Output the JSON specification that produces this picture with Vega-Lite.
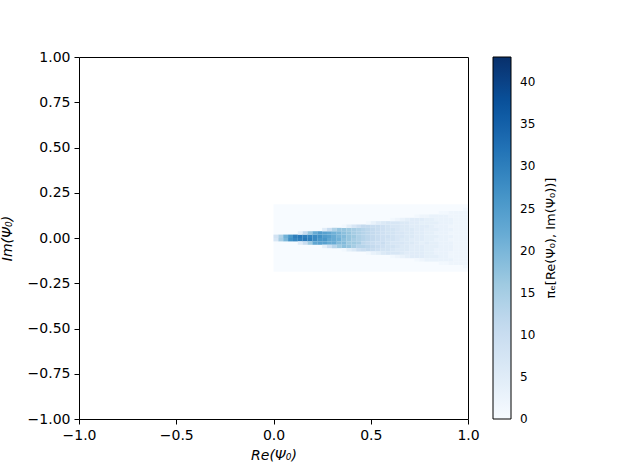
{
  "$schema": "https://vega.github.io/schema/vega-lite/v6.json",
  "width": 389,
  "height": 362,
  "autosize": {"type": "none"},
  "padding": {"left": 79, "top": 57, "right": 160, "bottom": 52},
  "background": "white",
  "config": {
    "font": "DejaVu Sans",
    "view": {"stroke": "black", "strokeWidth": 1},
    "axis": {
      "domain": false,
      "grid": false,
      "labelFlush": false,
      "tickColor": "black",
      "tickSize": 5,
      "tickWidth": 1,
      "labelColor": "black",
      "labelFont": "DejaVu Sans",
      "labelFontSize": 14,
      "labelPadding": 4,
      "titleColor": "black",
      "titleFont": "DejaVu Sans",
      "titleFontSize": 14,
      "titleFontWeight": "normal",
      "titleFontStyle": "italic"
    },
    "legend": {"gradientVerticalMaxLength": 400, "gradientVerticalMinLength": 100}
  },
  "datasets": {
    "bg": [{"x": 0, "xe": 1, "y": -0.186, "ye": 0.186, "v": 0}],
    "cells": [
      {"x":0.0125,"y":0.0093,"v":8},{"x":0.0125,"y":-0.0093,"v":7},
      {"x":0.0375,"y":0.0093,"v":14},{"x":0.0375,"y":-0.0093,"v":15},
      {"x":0.0625,"y":0.0093,"v":21},{"x":0.0625,"y":-0.0093,"v":20},
      {"x":0.0875,"y":0.0093,"v":26},{"x":0.0875,"y":-0.0093,"v":27},
      {"x":0.1125,"y":0.0093,"v":30},{"x":0.1125,"y":-0.0093,"v":29},
      {"x":0.1375,"y":0.0093,"v":31},{"x":0.1375,"y":-0.0093,"v":30},{"x":0.1375,"y":0.0279,"v":4},{"x":0.1375,"y":-0.0279,"v":5},
      {"x":0.1625,"y":0.0093,"v":30},{"x":0.1625,"y":-0.0093,"v":31},{"x":0.1625,"y":0.0279,"v":11},{"x":0.1625,"y":-0.0279,"v":10},
      {"x":0.1875,"y":0.0093,"v":29},{"x":0.1875,"y":-0.0093,"v":30},{"x":0.1875,"y":0.0279,"v":17},{"x":0.1875,"y":-0.0279,"v":16},
      {"x":0.2125,"y":0.0093,"v":28},{"x":0.2125,"y":-0.0093,"v":28},{"x":0.2125,"y":0.0279,"v":22},{"x":0.2125,"y":-0.0279,"v":23},
      {"x":0.2375,"y":0.0093,"v":27},{"x":0.2375,"y":-0.0093,"v":26},{"x":0.2375,"y":0.0279,"v":25},{"x":0.2375,"y":-0.0279,"v":24},
      {"x":0.2625,"y":0.0093,"v":25},{"x":0.2625,"y":-0.0093,"v":26},{"x":0.2625,"y":0.0279,"v":24},{"x":0.2625,"y":-0.0279,"v":24},{"x":0.2625,"y":0.0465,"v":5},{"x":0.2625,"y":-0.0465,"v":4},
      {"x":0.2875,"y":0.0093,"v":24},{"x":0.2875,"y":-0.0093,"v":23},{"x":0.2875,"y":0.0279,"v":23},{"x":0.2875,"y":-0.0279,"v":22},{"x":0.2875,"y":0.0465,"v":10},{"x":0.2875,"y":-0.0465,"v":9},
      {"x":0.3125,"y":0.0093,"v":22},{"x":0.3125,"y":-0.0093,"v":22},{"x":0.3125,"y":0.0279,"v":21},{"x":0.3125,"y":-0.0279,"v":22},{"x":0.3125,"y":0.0465,"v":14},{"x":0.3125,"y":-0.0465,"v":13},
      {"x":0.3375,"y":0.0093,"v":20},{"x":0.3375,"y":-0.0093,"v":21},{"x":0.3375,"y":0.0279,"v":20},{"x":0.3375,"y":-0.0279,"v":19},{"x":0.3375,"y":0.0465,"v":17},{"x":0.3375,"y":-0.0465,"v":16},
      {"x":0.3625,"y":0.0093,"v":19},{"x":0.3625,"y":-0.0093,"v":18},{"x":0.3625,"y":0.0279,"v":18},{"x":0.3625,"y":-0.0279,"v":19},{"x":0.3625,"y":0.0465,"v":17},{"x":0.3625,"y":-0.0465,"v":18},{"x":0.3625,"y":0.0651,"v":1},{"x":0.3625,"y":-0.0651,"v":1},
      {"x":0.3875,"y":0.0093,"v":17},{"x":0.3875,"y":-0.0093,"v":17},{"x":0.3875,"y":0.0279,"v":17},{"x":0.3875,"y":-0.0279,"v":16},{"x":0.3875,"y":0.0465,"v":16},{"x":0.3875,"y":-0.0465,"v":17},{"x":0.3875,"y":0.0651,"v":4},{"x":0.3875,"y":-0.0651,"v":4},
      {"x":0.4125,"y":0.0093,"v":16},{"x":0.4125,"y":-0.0093,"v":15},{"x":0.4125,"y":0.0279,"v":15},{"x":0.4125,"y":-0.0279,"v":16},{"x":0.4125,"y":0.0465,"v":15},{"x":0.4125,"y":-0.0465,"v":15},{"x":0.4125,"y":0.0651,"v":7},{"x":0.4125,"y":-0.0651,"v":6},
      {"x":0.4375,"y":0.0093,"v":14},{"x":0.4375,"y":-0.0093,"v":14},{"x":0.4375,"y":0.0279,"v":14},{"x":0.4375,"y":-0.0279,"v":15},{"x":0.4375,"y":0.0465,"v":14},{"x":0.4375,"y":-0.0465,"v":13},{"x":0.4375,"y":0.0651,"v":9},{"x":0.4375,"y":-0.0651,"v":9},
      {"x":0.4625,"y":0.0093,"v":13},{"x":0.4625,"y":-0.0093,"v":13},{"x":0.4625,"y":0.0279,"v":13},{"x":0.4625,"y":-0.0279,"v":12},{"x":0.4625,"y":0.0465,"v":13},{"x":0.4625,"y":-0.0465,"v":13},{"x":0.4625,"y":0.0651,"v":11},{"x":0.4625,"y":-0.0651,"v":10},
      {"x":0.4875,"y":0.0093,"v":12},{"x":0.4875,"y":-0.0093,"v":12},{"x":0.4875,"y":0.0279,"v":12},{"x":0.4875,"y":-0.0279,"v":11},{"x":0.4875,"y":0.0465,"v":12},{"x":0.4875,"y":-0.0465,"v":12},{"x":0.4875,"y":0.0651,"v":11},{"x":0.4875,"y":-0.0651,"v":11},{"x":0.4875,"y":0.0837,"v":1},{"x":0.4875,"y":-0.0837,"v":1},
      {"x":0.5125,"y":0.0093,"v":11},{"x":0.5125,"y":-0.0093,"v":11},{"x":0.5125,"y":0.0279,"v":11},{"x":0.5125,"y":-0.0279,"v":10},{"x":0.5125,"y":0.0465,"v":11},{"x":0.5125,"y":-0.0465,"v":11},{"x":0.5125,"y":0.0651,"v":10},{"x":0.5125,"y":-0.0651,"v":10},{"x":0.5125,"y":0.0837,"v":3},{"x":0.5125,"y":-0.0837,"v":3},
      {"x":0.5375,"y":0.0093,"v":10},{"x":0.5375,"y":-0.0093,"v":10},{"x":0.5375,"y":0.0279,"v":10},{"x":0.5375,"y":-0.0279,"v":9},{"x":0.5375,"y":0.0465,"v":10},{"x":0.5375,"y":-0.0465,"v":10},{"x":0.5375,"y":0.0651,"v":10},{"x":0.5375,"y":-0.0651,"v":9},{"x":0.5375,"y":0.0837,"v":5},{"x":0.5375,"y":-0.0837,"v":4},
      {"x":0.5625,"y":0.0093,"v":9},{"x":0.5625,"y":-0.0093,"v":9},{"x":0.5625,"y":0.0279,"v":9},{"x":0.5625,"y":-0.0279,"v":10},{"x":0.5625,"y":0.0465,"v":9},{"x":0.5625,"y":-0.0465,"v":9},{"x":0.5625,"y":0.0651,"v":9},{"x":0.5625,"y":-0.0651,"v":8},{"x":0.5625,"y":0.0837,"v":6},{"x":0.5625,"y":-0.0837,"v":6},
      {"x":0.5875,"y":0.0093,"v":9},{"x":0.5875,"y":-0.0093,"v":8},{"x":0.5875,"y":0.0279,"v":8},{"x":0.5875,"y":-0.0279,"v":8},{"x":0.5875,"y":0.0465,"v":8},{"x":0.5875,"y":-0.0465,"v":8},{"x":0.5875,"y":0.0651,"v":8},{"x":0.5875,"y":-0.0651,"v":8},{"x":0.5875,"y":0.0837,"v":7},{"x":0.5875,"y":-0.0837,"v":7},
      {"x":0.6125,"y":0.0093,"v":8},{"x":0.6125,"y":-0.0093,"v":8},{"x":0.6125,"y":0.0279,"v":8},{"x":0.6125,"y":-0.0279,"v":7},{"x":0.6125,"y":0.0465,"v":8},{"x":0.6125,"y":-0.0465,"v":8},{"x":0.6125,"y":0.0651,"v":7},{"x":0.6125,"y":-0.0651,"v":7},{"x":0.6125,"y":0.0837,"v":7},{"x":0.6125,"y":-0.0837,"v":7},{"x":0.6125,"y":0.1023,"v":1},{"x":0.6125,"y":-0.1023,"v":1},
      {"x":0.6375,"y":0.0093,"v":7},{"x":0.6375,"y":-0.0093,"v":7},{"x":0.6375,"y":0.0279,"v":7},{"x":0.6375,"y":-0.0279,"v":7},{"x":0.6375,"y":0.0465,"v":7},{"x":0.6375,"y":-0.0465,"v":7},{"x":0.6375,"y":0.0651,"v":7},{"x":0.6375,"y":-0.0651,"v":6},{"x":0.6375,"y":0.0837,"v":7},{"x":0.6375,"y":-0.0837,"v":7},{"x":0.6375,"y":0.1023,"v":2},{"x":0.6375,"y":-0.1023,"v":2},
      {"x":0.6625,"y":0.0093,"v":7},{"x":0.6625,"y":-0.0093,"v":6},{"x":0.6625,"y":0.0279,"v":7},{"x":0.6625,"y":-0.0279,"v":7},{"x":0.6625,"y":0.0465,"v":6},{"x":0.6625,"y":-0.0465,"v":6},{"x":0.6625,"y":0.0651,"v":6},{"x":0.6625,"y":-0.0651,"v":6},{"x":0.6625,"y":0.0837,"v":6},{"x":0.6625,"y":-0.0837,"v":6},{"x":0.6625,"y":0.1023,"v":3},{"x":0.6625,"y":-0.1023,"v":3},
      {"x":0.6875,"y":0.0093,"v":6},{"x":0.6875,"y":-0.0093,"v":6},{"x":0.6875,"y":0.0279,"v":6},{"x":0.6875,"y":-0.0279,"v":6},{"x":0.6875,"y":0.0465,"v":6},{"x":0.6875,"y":-0.0465,"v":6},{"x":0.6875,"y":0.0651,"v":6},{"x":0.6875,"y":-0.0651,"v":6},{"x":0.6875,"y":0.0837,"v":6},{"x":0.6875,"y":-0.0837,"v":5},{"x":0.6875,"y":0.1023,"v":4},{"x":0.6875,"y":-0.1023,"v":4},
      {"x":0.7125,"y":0.0093,"v":6},{"x":0.7125,"y":-0.0093,"v":5},{"x":0.7125,"y":0.0279,"v":6},{"x":0.7125,"y":-0.0279,"v":6},{"x":0.7125,"y":0.0465,"v":6},{"x":0.7125,"y":-0.0465,"v":5},{"x":0.7125,"y":0.0651,"v":5},{"x":0.7125,"y":-0.0651,"v":5},{"x":0.7125,"y":0.0837,"v":5},{"x":0.7125,"y":-0.0837,"v":5},{"x":0.7125,"y":0.1023,"v":5},{"x":0.7125,"y":-0.1023,"v":5},
      {"x":0.7375,"y":0.0093,"v":5},{"x":0.7375,"y":-0.0093,"v":5},{"x":0.7375,"y":0.0279,"v":5},{"x":0.7375,"y":-0.0279,"v":5},{"x":0.7375,"y":0.0465,"v":5},{"x":0.7375,"y":-0.0465,"v":5},{"x":0.7375,"y":0.0651,"v":5},{"x":0.7375,"y":-0.0651,"v":5},{"x":0.7375,"y":0.0837,"v":5},{"x":0.7375,"y":-0.0837,"v":5},{"x":0.7375,"y":0.1023,"v":5},{"x":0.7375,"y":-0.1023,"v":5},{"x":0.7375,"y":0.1209,"v":1},{"x":0.7375,"y":-0.1209,"v":1},
      {"x":0.7625,"y":0.0093,"v":5},{"x":0.7625,"y":-0.0093,"v":5},{"x":0.7625,"y":0.0279,"v":5},{"x":0.7625,"y":-0.0279,"v":4},{"x":0.7625,"y":0.0465,"v":5},{"x":0.7625,"y":-0.0465,"v":5},{"x":0.7625,"y":0.0651,"v":5},{"x":0.7625,"y":-0.0651,"v":5},{"x":0.7625,"y":0.0837,"v":4},{"x":0.7625,"y":-0.0837,"v":5},{"x":0.7625,"y":0.1023,"v":5},{"x":0.7625,"y":-0.1023,"v":5},{"x":0.7625,"y":0.1209,"v":2},{"x":0.7625,"y":-0.1209,"v":2},
      {"x":0.7875,"y":0.0093,"v":4},{"x":0.7875,"y":-0.0093,"v":4},{"x":0.7875,"y":0.0279,"v":4},{"x":0.7875,"y":-0.0279,"v":5},{"x":0.7875,"y":0.0465,"v":4},{"x":0.7875,"y":-0.0465,"v":4},{"x":0.7875,"y":0.0651,"v":5},{"x":0.7875,"y":-0.0651,"v":4},{"x":0.7875,"y":0.0837,"v":4},{"x":0.7875,"y":-0.0837,"v":4},{"x":0.7875,"y":0.1023,"v":4},{"x":0.7875,"y":-0.1023,"v":4},{"x":0.7875,"y":0.1209,"v":2},{"x":0.7875,"y":-0.1209,"v":3},
      {"x":0.8125,"y":0.0093,"v":4},{"x":0.8125,"y":-0.0093,"v":4},{"x":0.8125,"y":0.0279,"v":4},{"x":0.8125,"y":-0.0279,"v":4},{"x":0.8125,"y":0.0465,"v":4},{"x":0.8125,"y":-0.0465,"v":4},{"x":0.8125,"y":0.0651,"v":4},{"x":0.8125,"y":-0.0651,"v":4},{"x":0.8125,"y":0.0837,"v":4},{"x":0.8125,"y":-0.0837,"v":4},{"x":0.8125,"y":0.1023,"v":4},{"x":0.8125,"y":-0.1023,"v":4},{"x":0.8125,"y":0.1209,"v":3},{"x":0.8125,"y":-0.1209,"v":3},
      {"x":0.8375,"y":0.0093,"v":4},{"x":0.8375,"y":-0.0093,"v":3},{"x":0.8375,"y":0.0279,"v":3},{"x":0.8375,"y":-0.0279,"v":4},{"x":0.8375,"y":0.0465,"v":4},{"x":0.8375,"y":-0.0465,"v":4},{"x":0.8375,"y":0.0651,"v":3},{"x":0.8375,"y":-0.0651,"v":3},{"x":0.8375,"y":0.0837,"v":4},{"x":0.8375,"y":-0.0837,"v":3},{"x":0.8375,"y":0.1023,"v":3},{"x":0.8375,"y":-0.1023,"v":4},{"x":0.8375,"y":0.1209,"v":3},{"x":0.8375,"y":-0.1209,"v":3},
      {"x":0.8625,"y":0.0093,"v":3},{"x":0.8625,"y":-0.0093,"v":3},{"x":0.8625,"y":0.0279,"v":3},{"x":0.8625,"y":-0.0279,"v":3},{"x":0.8625,"y":0.0465,"v":3},{"x":0.8625,"y":-0.0465,"v":3},{"x":0.8625,"y":0.0651,"v":3},{"x":0.8625,"y":-0.0651,"v":3},{"x":0.8625,"y":0.0837,"v":3},{"x":0.8625,"y":-0.0837,"v":3},{"x":0.8625,"y":0.1023,"v":3},{"x":0.8625,"y":-0.1023,"v":3},{"x":0.8625,"y":0.1209,"v":3},{"x":0.8625,"y":-0.1209,"v":3},{"x":0.8625,"y":0.1395,"v":1},{"x":0.8625,"y":-0.1395,"v":1},
      {"x":0.8875,"y":0.0093,"v":3},{"x":0.8875,"y":-0.0093,"v":3},{"x":0.8875,"y":0.0279,"v":3},{"x":0.8875,"y":-0.0279,"v":3},{"x":0.8875,"y":0.0465,"v":3},{"x":0.8875,"y":-0.0465,"v":3},{"x":0.8875,"y":0.0651,"v":3},{"x":0.8875,"y":-0.0651,"v":3},{"x":0.8875,"y":0.0837,"v":3},{"x":0.8875,"y":-0.0837,"v":3},{"x":0.8875,"y":0.1023,"v":3},{"x":0.8875,"y":-0.1023,"v":3},{"x":0.8875,"y":0.1209,"v":3},{"x":0.8875,"y":-0.1209,"v":3},{"x":0.8875,"y":0.1395,"v":1},{"x":0.8875,"y":-0.1395,"v":1},
      {"x":0.9125,"y":0.0093,"v":3},{"x":0.9125,"y":-0.0093,"v":2},{"x":0.9125,"y":0.0279,"v":2},{"x":0.9125,"y":-0.0279,"v":3},{"x":0.9125,"y":0.0465,"v":3},{"x":0.9125,"y":-0.0465,"v":3},{"x":0.9125,"y":0.0651,"v":2},{"x":0.9125,"y":-0.0651,"v":3},{"x":0.9125,"y":0.0837,"v":3},{"x":0.9125,"y":-0.0837,"v":2},{"x":0.9125,"y":0.1023,"v":3},{"x":0.9125,"y":-0.1023,"v":2},{"x":0.9125,"y":0.1209,"v":2},{"x":0.9125,"y":-0.1209,"v":3},{"x":0.9125,"y":0.1395,"v":2},{"x":0.9125,"y":-0.1395,"v":2},
      {"x":0.9375,"y":0.0093,"v":2},{"x":0.9375,"y":-0.0093,"v":2},{"x":0.9375,"y":0.0279,"v":2},{"x":0.9375,"y":-0.0279,"v":2},{"x":0.9375,"y":0.0465,"v":2},{"x":0.9375,"y":-0.0465,"v":2},{"x":0.9375,"y":0.0651,"v":2},{"x":0.9375,"y":-0.0651,"v":2},{"x":0.9375,"y":0.0837,"v":2},{"x":0.9375,"y":-0.0837,"v":2},{"x":0.9375,"y":0.1023,"v":2},{"x":0.9375,"y":-0.1023,"v":2},{"x":0.9375,"y":0.1209,"v":2},{"x":0.9375,"y":-0.1209,"v":2},{"x":0.9375,"y":0.1395,"v":2},{"x":0.9375,"y":-0.1395,"v":2},
      {"x":0.9625,"y":0.0093,"v":2},{"x":0.9625,"y":-0.0093,"v":2},{"x":0.9625,"y":0.0279,"v":2},{"x":0.9625,"y":-0.0279,"v":2},{"x":0.9625,"y":0.0465,"v":2},{"x":0.9625,"y":-0.0465,"v":2},{"x":0.9625,"y":0.0651,"v":2},{"x":0.9625,"y":-0.0651,"v":2},{"x":0.9625,"y":0.0837,"v":2},{"x":0.9625,"y":-0.0837,"v":2},{"x":0.9625,"y":0.1023,"v":2},{"x":0.9625,"y":-0.1023,"v":2},{"x":0.9625,"y":0.1209,"v":2},{"x":0.9625,"y":-0.1209,"v":2},{"x":0.9625,"y":0.1395,"v":2},{"x":0.9625,"y":-0.1395,"v":2},
      {"x":0.9875,"y":0.0093,"v":2},{"x":0.9875,"y":-0.0093,"v":2},{"x":0.9875,"y":0.0279,"v":2},{"x":0.9875,"y":-0.0279,"v":2},{"x":0.9875,"y":0.0465,"v":2},{"x":0.9875,"y":-0.0465,"v":2},{"x":0.9875,"y":0.0651,"v":2},{"x":0.9875,"y":-0.0651,"v":2},{"x":0.9875,"y":0.0837,"v":2},{"x":0.9875,"y":-0.0837,"v":2},{"x":0.9875,"y":0.1023,"v":2},{"x":0.9875,"y":-0.1023,"v":2},{"x":0.9875,"y":0.1209,"v":2},{"x":0.9875,"y":-0.1209,"v":2},{"x":0.9875,"y":0.1395,"v":2},{"x":0.9875,"y":-0.1395,"v":2},{"x":0.9875,"y":0.1581,"v":1},{"x":0.9875,"y":-0.1581,"v":1}
    ]
  },
  "layer": [
    {
      "data": {"name": "bg"},
      "mark": {"type": "rect", "clip": true},
      "encoding": {
        "x": {"field": "x", "type": "quantitative", "title": "Re(Ψ₀)",
          "scale": {"domain": [-1, 1], "nice": false, "zero": false},
          "axis": {"values": [-1, -0.5, 0, 0.5, 1], "labelExpr": "replace(format(datum.value, '.1f'), '-', '−')", "titlePadding": 6}},
        "x2": {"field": "xe"},
        "y": {"field": "y", "type": "quantitative", "title": "Im(Ψ₀)",
          "scale": {"domain": [-1, 1], "nice": false, "zero": false},
          "axis": {"values": [-1, -0.75, -0.5, -0.25, 0, 0.25, 0.5, 0.75, 1], "labelExpr": "replace(format(datum.value, '.2f'), '-', '−')", "titleX": -68, "titleY": 181, "titleAngle": 270, "titleAlign": "center", "titleBaseline": "alphabetic"}},
        "y2": {"field": "ye"},
        "color": {"field": "v", "type": "quantitative", "title": "πₑ[Re(Ψ₀), Im(Ψ₀))]",
          "scale": {"domain": [0, 5.375, 10.75, 16.125, 21.5, 26.875, 32.25, 37.625, 43],
                    "range": ["#f7fbff", "#deebf7", "#c6dbef", "#9ecae1", "#6baed6", "#4292c6", "#2171b5", "#08519c", "#08306b"]},
          "legend": {"type": "gradient", "direction": "vertical", "orient": "right", "offset": 25, "padding": 0,
            "gradientLength": 362, "gradientThickness": 18, "gradientStrokeColor": "black", "gradientStrokeWidth": 1,
            "values": [0, 5, 10, 15, 20, 25, 30, 35, 40],
            "labelFont": "DejaVu Sans", "labelFontSize": 12, "labelColor": "black", "labelOffset": 9,
            "titleOrient": "right", "titleAnchor": "middle", "titleFont": "DejaVu Sans",
            "titleFontSize": 13, "titleFontWeight": "normal", "titleColor": "black", "titlePadding": 10, "titleLimit": 400,
            "encode": {
              "title": {"update": {"angle": {"value": -90}, "baseline": {"value": "top"}}},
              "labels": {"update": {"baseline": {"value": "middle"}}}
            }}}
      }
    },
    {
      "data": {"name": "cells"},
      "mark": {"type": "rect", "clip": true, "width": 4.9, "height": 3.45},
      "encoding": {
        "x": {"field": "x", "type": "quantitative", "title": "Re(Ψ₀)",
          "scale": {"domain": [-1, 1], "nice": false, "zero": false}},
        "y": {"field": "y", "type": "quantitative", "title": "Im(Ψ₀)",
          "scale": {"domain": [-1, 1], "nice": false, "zero": false}},
        "color": {"field": "v", "type": "quantitative", "title": "πₑ[Re(Ψ₀), Im(Ψ₀))]"}
      }
    }
  ]
}
